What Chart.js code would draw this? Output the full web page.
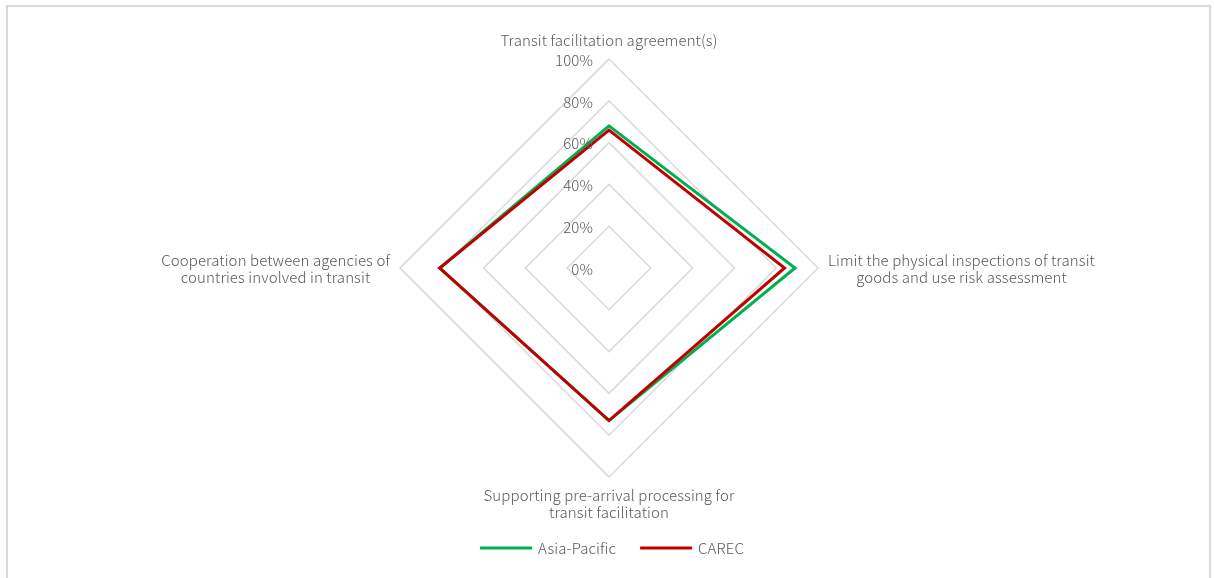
<!DOCTYPE html>
<html>
<head>
<meta charset="utf-8">
<script src="https://cdn.jsdelivr.net/npm/chart.js@4"></script>
<style>
  html, body { margin: 0; padding: 0; background: #fff; }
  #wrap { position: relative; width: 1214px; height: 578px; overflow: hidden; }
  #frame { position: absolute; left: 6px; top: 5px; width: 1201px; height: 600px; border: 2px solid #d9d9d9; box-sizing: content-box; }
  canvas { position: absolute; left: 0; top: 0; }
</style>
</head>
<body>
<div id="wrap">
  <div id="frame"></div>
  <canvas id="c" width="1214" height="578"></canvas>
</div>
<script>
const categories = [
  ["Transit facilitation agreement(s)"],
  ["Limit the physical inspections of transit", "goods and use risk assessment"],
  ["Supporting pre-arrival processing for", "transit facilitation"],
  ["Cooperation between agencies of", "countries involved in transit"]
];
const seriesNames = ["Asia-Pacific", "CAREC"];
const asiaPacific = [68, 89, 73, 81];
const carec = [66, 84, 73, 81];
const tickValues = [0, 20, 40, 60, 80, 100];
const tickLabels = ["0%", "20%", "40%", "60%", "80%", "100%"];

const FONT = '300 15px "Noto Sans CJK SC", "Noto Sans", sans-serif';
const TEXT = '#595959';

const overlay = {
  id: 'overlay',
  afterDraw(chart) {
    const ctx = chart.ctx;
    const s = chart.scales.r;
    ctx.save();
    ctx.font = FONT;
    ctx.letterSpacing = '0.1px';
    ctx.fillStyle = TEXT;
    // tick labels
    ctx.textAlign = 'right';
    ctx.textBaseline = 'middle';
    tickValues.forEach((v, i) => {
      const d = s.getDistanceFromCenterForValue(v);
      ctx.fillText(tickLabels[i], s.xCenter - 16, s.yCenter - d + 1);
    });
    // point labels
    const lh = 17;
    const gap = 10;
    categories.forEach((lines, i) => {
      const p = s.getPointPosition(i, s.drawingArea);
      const c = Math.cos(p.angle), sn = Math.sin(p.angle);
      const w = Math.max(...lines.map(l => ctx.measureText(l).width));
      const h = lines.length * lh;
      let cx, top;
      if (c > 0.5) cx = p.x + gap + w / 2;
      else if (c < -0.5) cx = p.x - gap - w / 2;
      else cx = p.x;
      if (sn < -0.5) top = p.y - gap - h;
      else if (sn > 0.5) top = p.y + gap;
      else top = p.y - h / 2 + 1;
      ctx.textAlign = 'center';
      ctx.textBaseline = 'middle';
      lines.forEach((l, k) => ctx.fillText(l, cx, top + lh * k + lh / 2));
    });
    // legend
    const ds = chart.data.datasets;
    const lineLen = 52, tgap = 6, igap = 24;
    const widths = ds.map(d => lineLen + tgap + ctx.measureText(d.label).width);
    const total = widths.reduce((a, b) => a + b, 0) + igap * (ds.length - 1);
    let x = s.xCenter + 3 - total / 2;
    const ly = 548;
    ds.forEach((d, i) => {
      ctx.strokeStyle = d.borderColor;
      ctx.lineWidth = 3;
      ctx.beginPath();
      ctx.moveTo(x, ly);
      ctx.lineTo(x + lineLen, ly);
      ctx.stroke();
      ctx.textAlign = 'left';
      ctx.fillStyle = TEXT;
      ctx.fillText(d.label, x + lineLen + tgap, ly);
      x += widths[i] + igap;
    });
    ctx.restore();
  }
};

new Chart(document.getElementById('c'), {
  type: 'radar',
  data: {
    labels: categories,
    datasets: [
      { label: seriesNames[0], data: asiaPacific, order: 1, borderColor: '#00B050', backgroundColor: 'rgba(0,0,0,0)', borderWidth: 3, pointRadius: 0, fill: false, tension: 0 },
      { label: seriesNames[1], data: carec, order: 0, borderColor: '#C00000', backgroundColor: 'rgba(0,0,0,0)', borderWidth: 3, pointRadius: 0, fill: false, tension: 0 }
    ]
  },
  options: {
    responsive: false,
    animation: false,
    devicePixelRatio: 1,
    layout: { padding: { top: 59, bottom: 101, left: 5, right: 0 } },
    plugins: { legend: { display: false }, tooltip: { enabled: false } },
    elements: { line: { borderJoinStyle: 'miter' } },
    scales: {
      r: {
        min: 0, max: 100,
        ticks: { display: false, stepSize: 20 },
        grid: { color: '#d9d9d9', lineWidth: 1.5, circular: false },
        angleLines: { display: false },
        pointLabels: { display: false }
      }
    }
  },
  plugins: [overlay]
});
</script>
</body>
</html>
